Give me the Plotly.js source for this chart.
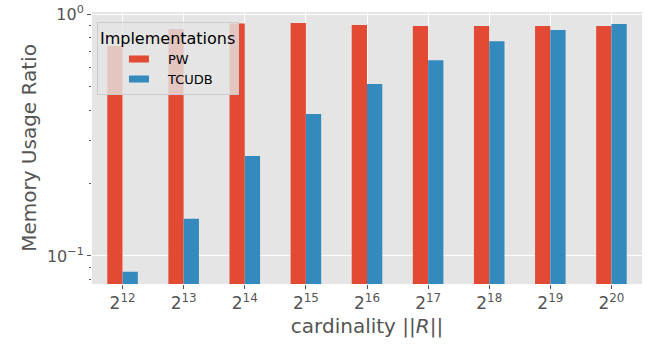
<!DOCTYPE html>
<html>
<head>
<meta charset="utf-8">
<script src="https://cdn.plot.ly/plotly-3.0.1.min.js"></script>
<style>html,body{margin:0;padding:0;background:#fff;}#chart{width:649px;height:346px;}</style>
</head>
<body>
<div id="chart"></div>
<script>
const categories = ['2<sup>12</sup>','2<sup>13</sup>','2<sup>14</sup>','2<sup>15</sup>','2<sup>16</sup>','2<sup>17</sup>','2<sup>18</sup>','2<sup>19</sup>','2<sup>20</sup>'];
const pwValues = [0.738, 0.867, 0.915, 0.918, 0.901, 0.892, 0.892, 0.892, 0.892];
const tcudbValues = [0.086, 0.1426, 0.259, 0.386, 0.514, 0.645, 0.773, 0.859, 0.909];
const seriesNames = ['PW', 'TCUDB'];
const yMajorVals = [0.1, 1];
const yMajorText = ['10<sup>\u22121</sup>', '10<sup>0</sup>'];
const yMinorVals = [0.08, 0.09, 0.2, 0.3, 0.4, 0.5, 0.6, 0.7, 0.8, 0.9];

const font = 'DejaVu Sans, sans-serif';
const traces = [
  {type:'bar', name:seriesNames[0], x:categories, y:pwValues, marker:{color:'#E24A33'}},
  {type:'bar', name:seriesNames[1], x:categories, y:tcudbValues, marker:{color:'#348ABD'}}
];
const layout = {
  width:649, height:346,
  margin:{l:92, r:7, t:12, b:62},
  paper_bgcolor:'#ffffff', plot_bgcolor:'#E5E5E5',
  barmode:'group', bargap:0.5, bargroupgap:0,
  font:{family:font, color:'#555555'},
  showlegend:true,
  legend:{
    x:0.009, y:0.962, xanchor:'left', yanchor:'top',
    bgcolor:'rgba(229,229,229,0.8)', bordercolor:'#cccccc', borderwidth:1,
    font:{family:font, size:13, color:'#000000'},
    title:{text:'Implementations', font:{family:font, size:16, color:'#000000'}, side:'top'},
    itemwidth:60, tracegroupgap:0
  },
  xaxis:{
    type:'category', range:[-0.5, 8.5],
    showgrid:true, gridcolor:'#ffffff', gridwidth:1,
    ticks:'outside', ticklen:4, tickcolor:'#555555',
    tickfont:{family:font, size:17, color:'#555555'},
    showline:false, zeroline:false,
    title:{text:'cardinality ||<i>R</i>||', font:{family:font, size:20, color:'#555555'}, standoff:6}
  },
  yaxis:{
    type:'log', range:[Math.log10(0.0766), Math.log10(1.02)],
    tickmode:'array', tickvals:yMajorVals, ticktext:yMajorText,
    showgrid:true, gridcolor:'#ffffff', gridwidth:1,
    ticks:'outside', ticklen:4, tickcolor:'#555555',
    tickfont:{family:font, size:16, color:'#555555'},
    minor:{tickmode:'array', tickvals:yMinorVals, ticks:'outside', ticklen:2, tickcolor:'#555555', showgrid:false},
    showline:false, zeroline:false,
    title:{text:'Memory Usage Ratio', font:{family:font, size:20, color:'#555555'}, standoff:4}
  }
};
Plotly.newPlot('chart', traces, layout, {displayModeBar:false, staticPlot:true}).then(function(gd){
  gd.querySelectorAll('.legend .legendpoints path').forEach(function(p){
    p.setAttribute('d','M16,3.5H-4V-3.5H16Z');
  });
});
</script>
</body>
</html>
